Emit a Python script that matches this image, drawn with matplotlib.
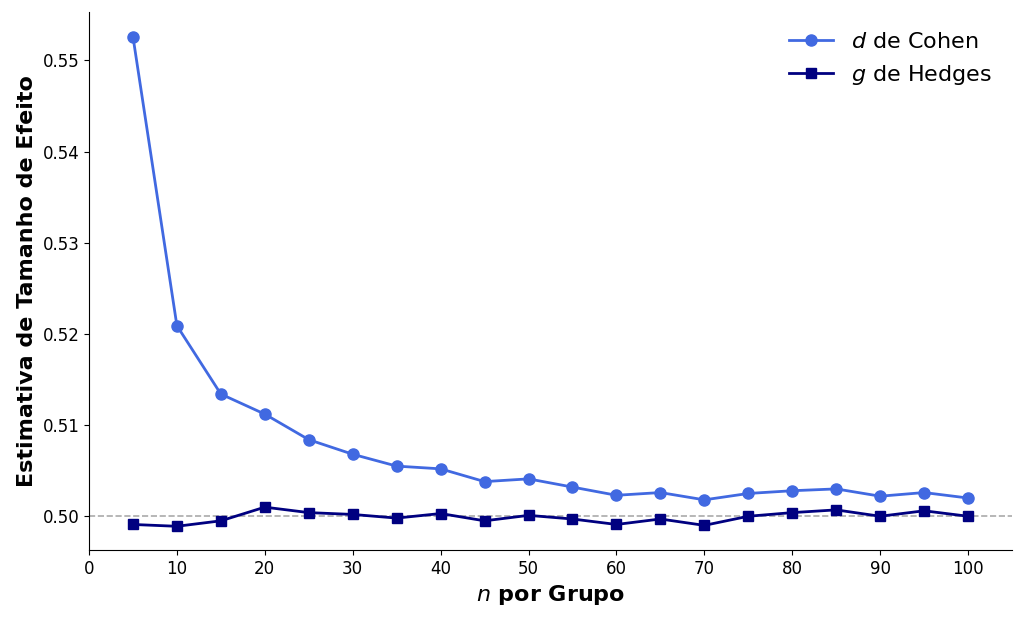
import matplotlib
matplotlib.use("Agg")
import matplotlib.pyplot as plt

n = [5,10,15,20,25,30,35,40,45,50,55,60,65,70,75,80,85,90,95,100]
cohen_d = [0.5526,0.5209,0.5134,0.5112,0.5084,0.5068,0.5055,0.5052,0.5038,0.5041,
           0.5032,0.5023,0.5026,0.5018,0.5025,0.5028,0.5030,0.5022,0.5026,0.5020]
hedges_g = [0.4991,0.4989,0.4995,0.5010,0.5004,0.5002,0.4998,0.5003,0.4995,0.5001,
            0.4997,0.4991,0.4997,0.4990,0.5000,0.5004,0.5007,0.5000,0.5006,0.5000]

fig = plt.figure(figsize=(10.24, 6.2), dpi=100)
ax = fig.add_axes([89/1024, 70/620, 923/1024, 538/620])
ax.axhline(0.5, color="#aaaaaa", ls="--", lw=1.2, zorder=1)
ax.plot(n, cohen_d, "-o", color="#4169E1", lw=2, ms=8, label=r"$d$ de Cohen")
ax.plot(n, hedges_g, "-s", color="#000080", lw=2, ms=7, label=r"$g$ de Hedges")
ax.set_xlim(0, 105)
ax.set_ylim(0.4963, 0.5553)
ax.set_xticks(range(0, 101, 10))
ax.set_yticks([0.50, 0.51, 0.52, 0.53, 0.54, 0.55])
ax.set_yticklabels(["0.50", "0.51", "0.52", "0.53", "0.54", "0.55"])
ax.tick_params(labelsize=12)
ax.spines["top"].set_visible(False)
ax.spines["right"].set_visible(False)
ax.set_xlabel(r"$n$ por Grupo", fontsize=16, fontweight="bold")
ax.set_ylabel("Estimativa de Tamanho de Efeito", fontsize=16, fontweight="bold")
ax.legend(fontsize=16, frameon=False, loc="upper right")
fig.savefig("out.png", dpi=100)
